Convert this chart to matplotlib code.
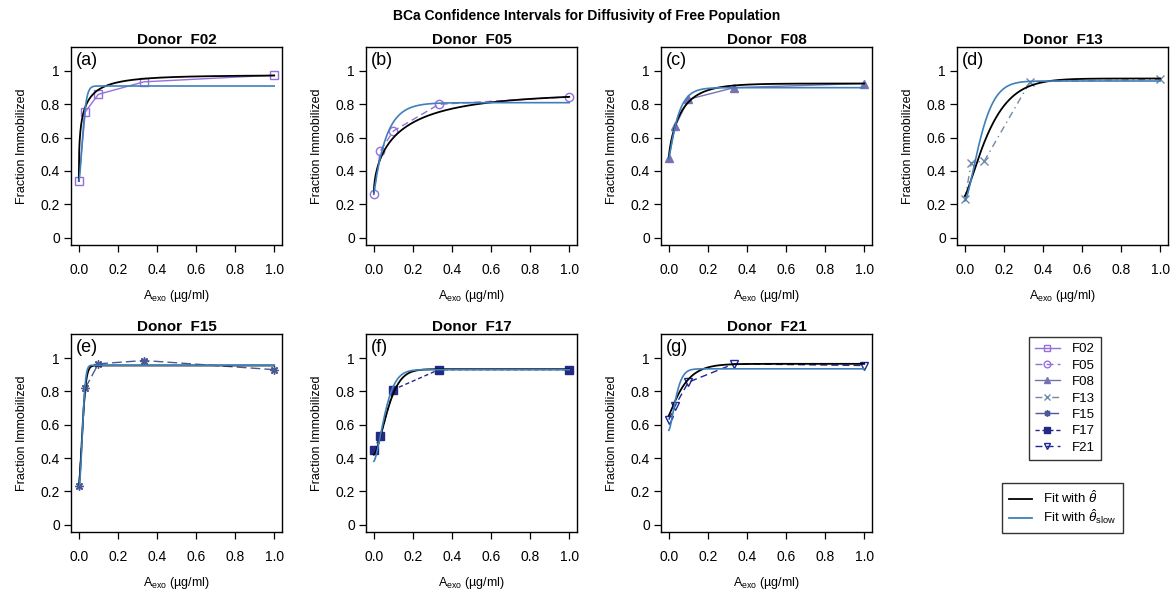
import numpy as np
import matplotlib
matplotlib.use('Agg')
from matplotlib import pyplot as plt
from matplotlib.lines import Line2D

plt.rcParams['font.family'] = ['Liberation Sans', 'DejaVu Sans']
plt.rcParams['mathtext.fontset'] = 'custom'
plt.rcParams['mathtext.rm'] = 'Liberation Sans'
plt.rcParams['mathtext.it'] = 'Liberation Sans:italic'

# A_exo concentrations (ug/ml)
dose = [0.0, 1/30, 0.1, 1/3, 1.0]
donors = ['F02', 'F05', 'F08', 'F13', 'F15', 'F17', 'F21']
tags = ['(a)', '(b)', '(c)', '(d)', '(e)', '(f)', '(g)']

# observed fraction immobilized
frac_F02 = [0.34, 0.755, 0.86, 0.935, 0.975]
frac_F05 = [0.26, 0.52, 0.64, 0.80, 0.845]
frac_F08 = [0.48, 0.67, 0.83, 0.90, 0.925]
frac_F13 = [0.23, 0.45, 0.46, 0.935, 0.95]
frac_F15 = [0.235, 0.82, 0.965, 0.985, 0.93]
frac_F17 = [0.45, 0.53, 0.81, 0.93, 0.93]
frac_F21 = [0.63, 0.715, 0.855, 0.965, 0.955]
fracs = [frac_F02, frac_F05, frac_F08, frac_F13, frac_F15, frac_F17, frac_F21]

# fitted curves: start, plateau, scale, shape
fit_y0 = [0.34, 0.27, 0.48, 0.25, 0.23, 0.42, 0.655]
fit_top = [0.975, 0.87, 0.925, 0.955, 0.955, 0.933, 0.965]
fit_tau = [0.022, 0.146, 0.067, 0.148, 0.024, 0.086, 0.085]
fit_n = [0.45, 0.6, 0.8, 1.25, 1.6, 1.54, 1.15]

slow_y0 = [0.34, 0.26, 0.47, 0.22, 0.23, 0.38, 0.566]
slow_top = [0.91, 0.81, 0.90, 0.94, 0.957, 0.93, 0.935]
slow_tau = [0.026, 0.0645, 0.05, 0.099, 0.024, 0.07, 0.044]
slow_n = [1.6, 1.0, 1.1, 1.45, 2.0, 1.5, 1.5]

# line styles per donor
cols = ['#9370DB', '#9370DB', '#7672B4', '#7188A6', '#4B5A96', '#232A86', '#1B2796']
lss = ['-', (0, (5, 3)), '-', (0, (5, 3, 1, 3)), (0, (7, 3)), (0, (3, 2)), (0, (5, 3))]
mks = ['s', 'o', '^', 'x', (8, 2, 0), 's', 'v']
mfill = [False, False, True, False, True, True, False]

black_c = 'black'
blue_c = '#3F7FBA'


def curve(x, y0, top, tau, n):
    return top - (top - y0)*np.exp(-(x/tau)**n)


fig = plt.figure(figsize=(11.73, 5.96), dpi=100)
W, H = 1173., 596.
lefts = [71, 366, 661, 957]
tops = [47, 334]
aw, ah = 211, 198

xx = np.linspace(0, 1, 500)
handles = []
for i in range(len(donors)):
    r, c = divmod(i, 4)
    ax = fig.add_axes([lefts[c]/W, 1-(tops[r]+ah)/H, aw/W, ah/H])
    mfc = cols[i] if mfill[i] else 'none'
    h, = ax.plot(dose, fracs[i], color=cols[i], ls=lss[i], lw=1.0,
                 marker=mks[i], mfc=mfc, mec=cols[i], ms=6, mew=1.0)
    handles.append(h)
    ax.plot(xx, curve(xx, fit_y0[i], fit_top[i], fit_tau[i], fit_n[i]),
            color=black_c, lw=1.3)
    ax.plot(xx, curve(xx, slow_y0[i], slow_top[i], slow_tau[i], slow_n[i]),
            color=blue_c, lw=1.2)
    ax.set_xlim(-0.04, 1.04)
    ax.set_ylim(-0.044, 1.144)
    ax.set_xticks([0, 0.2, 0.4, 0.6, 0.8, 1.0])
    ax.set_xticklabels(['0.0', '0.2', '0.4', '0.6', '0.8', '1.0'])
    ax.set_yticks([0, 0.2, 0.4, 0.6, 0.8, 1.0])
    ax.set_yticklabels(['0', '0.2', '0.4', '0.6', '0.8', '1'])
    ax.tick_params(axis='both', direction='out', length=5, width=0.9, labelsize=10)
    ax.tick_params(axis='x', pad=8)
    ax.tick_params(axis='y', pad=3)
    for s in ax.spines.values():
        s.set_linewidth(1.0)
    ax.set_title('Donor  ' + donors[i], fontsize=11, fontweight='bold', pad=2)
    ax.set_ylabel('Fraction Immobilized', fontsize=9, labelpad=9)
    ax.set_xlabel(r'A$_{\mathrm{exo}}$ (µg/ml)', fontsize=9, labelpad=8)
    ax.text(0.025, 0.975, tags[i], transform=ax.transAxes, ha='left', va='top', fontsize=13)

fig.text(0.5, 1-16/H, 'BCa Confidence Intervals for Diffusivity of Free Population',
         ha='center', va='center', fontsize=10, fontweight='bold')

leg1 = fig.legend(handles, donors, loc='upper left', bbox_to_anchor=(1029/W, 1-337/H),
                  borderaxespad=0, fontsize=9.5, frameon=True, fancybox=False,
                  edgecolor='black', handlelength=1.9, handletextpad=0.9,
                  labelspacing=0.32, borderpad=0.45, markerscale=0.8)
leg1.get_frame().set_linewidth(1.0)

fit_handles = [Line2D([], [], color=black_c, lw=1.3), Line2D([], [], color=blue_c, lw=1.3)]
leg2 = fig.legend(fit_handles, [r'Fit with $\hat{\theta}$', r'Fit with $\hat{\theta}_{\mathrm{slow}}$'],
                  loc='upper left', bbox_to_anchor=(1002/W, 1-483/H), borderaxespad=0,
                  fontsize=9.5, frameon=True, fancybox=False, edgecolor='black',
                  handlelength=1.8, handletextpad=0.8, labelspacing=0.1, borderpad=0.5)
leg2.get_frame().set_linewidth(1.0)

fig.savefig('out.png', dpi=100)
